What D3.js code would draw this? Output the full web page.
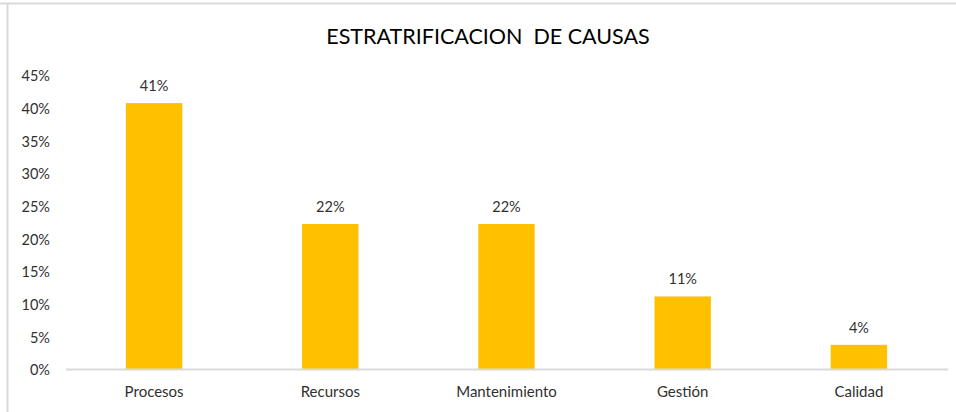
<!DOCTYPE html>
<html>
<head>
<meta charset="utf-8">
<script src="https://cdn.jsdelivr.net/npm/d3@7"></script>
<style>
  body { margin: 0; background: #fff; }
  text { font-family: Lato, "Open Sans", sans-serif; fill: #404040; }
</style>
</head>
<body>
<div id="chart"></div>
<script>
const categories = ["Procesos", "Recursos", "Mantenimiento", "Gestión", "Calidad"];
const values = [0.407, 0.222, 0.222, 0.111, 0.037];
const valueLabels = ["41%", "22%", "22%", "11%", "4%"];
const yTicks = [0, 0.05, 0.10, 0.15, 0.20, 0.25, 0.30, 0.35, 0.40, 0.45];

const width = 956, height = 412;
const plot = {left: 66, right: 947, top: 75, bottom: 369};

const svg = d3.select("#chart").append("svg")
    .attr("width", width)
    .attr("height", height);

// chart frame (only top and left edges are visible in the crop)
svg.append("line")
    .attr("x1", 0).attr("x2", width).attr("y1", 3.5).attr("y2", 3.5)
    .style("stroke", "#d9d9d9").style("stroke-width", 2);
svg.append("line")
    .attr("x1", 7.5).attr("x2", 7.5).attr("y1", 3).attr("y2", height)
    .style("stroke", "#d9d9d9").style("stroke-width", 2);

svg.append("text")
    .attr("x", 488)
    .attr("y", 44)
    .attr("text-anchor", "middle")
    .attr("font-size", 21.5)
    .style("fill", "#000")
    .style("white-space", "pre")
    .text("ESTRATRIFICACION  DE CAUSAS");

const x = d3.scaleBand()
    .domain(categories)
    .range([plot.left, plot.right])
    .paddingInner(0.68)
    .paddingOuter(0.34);

const y = d3.scaleLinear()
    .domain([0, 0.45])
    .range([plot.bottom, plot.top]);

const yAxis = d3.axisLeft(y)
    .tickValues(yTicks)
    .tickFormat(d3.format(".0%"))
    .tickSize(0)
    .tickPadding(16);

svg.append("g")
    .attr("class", "yAxis")
    .attr("transform", "translate(" + plot.left + ",0)")
    .call(yAxis)
    .call(g => g.select(".domain").remove())
    .selectAll("text")
    .attr("font-size", 14.5)
    .attr("dy", "0.4em")
    .style("fill", "#303030");

svg.selectAll("rect.bar")
    .data(values)
    .enter().append("rect")
    .attr("class", "bar")
    .attr("x", (d, i) => x(categories[i]))
    .attr("y", d => y(d))
    .attr("width", x.bandwidth())
    .attr("height", d => y(0) - y(d))
    .attr("fill", "#ffc000");

svg.selectAll("text.val")
    .data(values)
    .enter().append("text")
    .attr("class", "val")
    .attr("x", (d, i) => x(categories[i]) + x.bandwidth() / 2)
    .attr("y", d => y(d) - 12)
    .attr("text-anchor", "middle")
    .attr("font-size", 14.5)
    .style("fill", "#303030")
    .text((d, i) => valueLabels[i]);

const xAxis = d3.axisBottom(x)
    .tickSize(0)
    .tickPadding(17);

svg.append("g")
    .attr("class", "xAxis")
    .attr("transform", "translate(0," + plot.bottom + ")")
    .call(xAxis)
    .call(g => g.select(".domain")
        .attr("d", "M" + plot.left + ",0.5H" + (plot.right + 1))
        .style("stroke", "#d9d9d9")
        .style("stroke-width", 2))
    .selectAll("text")
    .attr("font-size", 15)
    .style("fill", "#303030");
</script>
</body>
</html>
